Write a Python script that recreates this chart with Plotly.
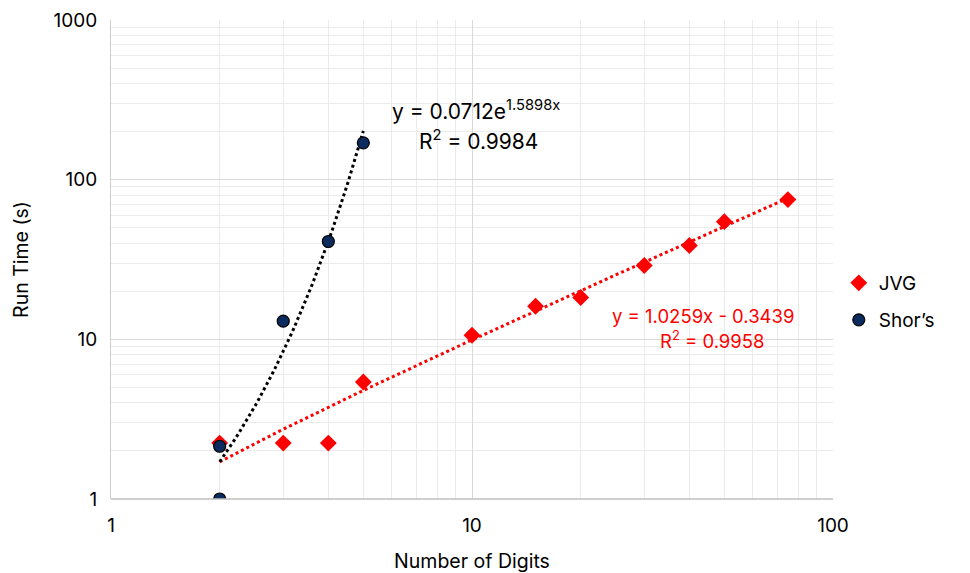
import numpy as np
import plotly.graph_objects as go

# Data
jvg_x = [2, 3, 4, 5, 10, 15, 20, 30, 40, 50, 75]
jvg_y = [2.24, 2.24, 2.24, 5.4, 10.6, 16.1, 18.3, 29, 38.7, 54.6, 75]
shor_x = [2, 2, 3, 4, 5]
shor_y = [1.0, 2.14, 13.0, 41.0, 170.0]

# Trendline coefficients (as shown)
exp_a, exp_b = 0.0712, 1.5898
lin_m, lin_c = 1.0259, -0.3439

exp_eq = "y = 0.0712e<sup>1.5898x</sup>"
exp_r2 = "R<sup>2</sup> = 0.9984"
lin_eq = "y = 1.0259x - 0.3439"
lin_r2 = "R<sup>2</sup> = 0.9958"

x_ticks = [1, 10, 100]
y_ticks = [1, 10, 100, 1000]

FONT = "Inter"

ex = np.linspace(min(shor_x), max(shor_x), 60)
ey = exp_a * np.exp(exp_b * ex)
lx = np.geomspace(min(jvg_x), max(jvg_x), 80)
ly = lin_m * lx + lin_c

fig = go.Figure()
fig.add_trace(go.Scatter(x=lx, y=ly, mode="lines", showlegend=False, hoverinfo="skip",
                         line=dict(color="#ff0000", width=3, dash="dot")))
fig.add_trace(go.Scatter(x=ex, y=ey, mode="lines", showlegend=False, hoverinfo="skip",
                         line=dict(color="#000000", width=3, dash="dot")))
fig.add_trace(go.Scatter(x=jvg_x, y=jvg_y, mode="markers", name="JVG", legend="legend",
                         marker=dict(symbol="diamond", size=13, color="#ff0000",
                                     line=dict(width=0))))
fig.add_trace(go.Scatter(x=shor_x, y=shor_y, mode="markers", name="Shor\u2019s", legend="legend2",
                         marker=dict(symbol="circle", size=12, color="#0b2a5e",
                                     line=dict(width=1.2, color="#000000"))))

fig.add_annotation(x=0.773, y=2.436, xref="x", yref="y", text=exp_eq,
                   showarrow=False, xanchor="left", font=dict(size=21, color="#000000", family=FONT))
fig.add_annotation(x=1.019, y=2.248, xref="x", yref="y", text=exp_r2,
                   showarrow=False, xanchor="center", font=dict(size=21, color="#000000", family=FONT))
fig.add_annotation(x=1.640, y=1.146, xref="x", yref="y", text=lin_eq,
                   showarrow=False, xanchor="center", font=dict(size=18.5, color="#ff0000", family=FONT))
fig.add_annotation(x=1.665, y=0.996, xref="x", yref="y", text=lin_r2,
                   showarrow=False, xanchor="center", font=dict(size=18.5, color="#ff0000", family=FONT))

axis_common = dict(
    type="log", showgrid=True, gridcolor="#d9d9d9", gridwidth=1,
    ticks="", zeroline=False, automargin=False,
    tickfont=dict(size=19, color="#000000", family=FONT),
    minor=dict(dtick="D1", showgrid=True, gridcolor="#ebebeb", gridwidth=1, ticks=""),
)
fig.update_xaxes(**axis_common, range=[0, 2], tickvals=x_ticks, ticktext=[str(v) for v in x_ticks],
                 showline=False, ticklabelstandoff=13,
                 title=dict(text="Number of Digits", font=dict(size=19.5, color="#000000", family=FONT),
                            standoff=22))
fig.update_yaxes(**axis_common, range=[0, 3], tickvals=y_ticks, ticktext=[str(v) for v in y_ticks],
                 showline=True, linecolor="#d0d0d0", linewidth=1, ticklabelstandoff=9,
                 title=dict(text="Run Time (s)", font=dict(size=19.5, color="#000000", family=FONT),
                            standoff=19))
fig.add_shape(type="line", xref="paper", yref="paper", x0=0, x1=1, y0=0, y1=0,
              line=dict(color="#bfbfbf", width=1.5))

leg = dict(xanchor="left", yanchor="middle", font=dict(size=19, color="#000000", family=FONT),
           itemwidth=30, bgcolor="rgba(0,0,0,0)")
fig.update_layout(
    width=962, height=565,
    margin=dict(l=103, r=137, t=12, b=74),
    paper_bgcolor="#ffffff", plot_bgcolor="#ffffff",
    font=dict(family=FONT, color="#000000"),
    legend=dict(leg, x=1.008, y=(499 - 283) / 479),
    legend2=dict(leg, x=1.008, y=(499 - 320) / 479),
)

fig.write_html("out.html")
